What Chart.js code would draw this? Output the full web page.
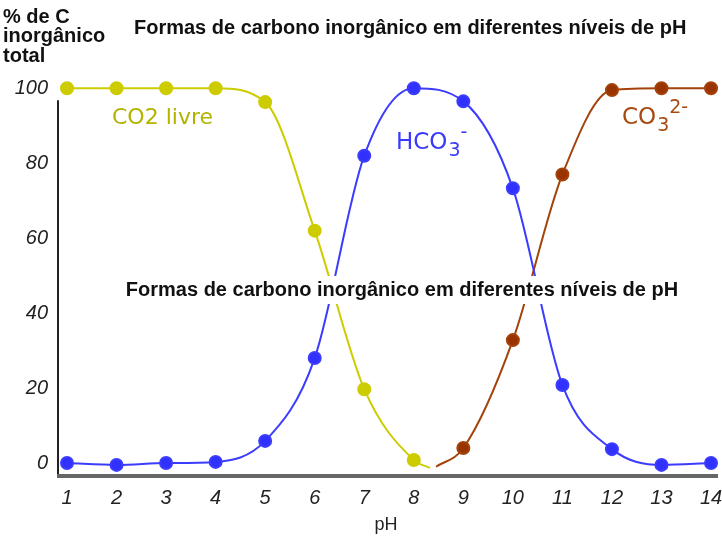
<!DOCTYPE html>
<html>
<head>
<meta charset="utf-8">
<script src="https://cdn.jsdelivr.net/npm/chart.js@4/dist/chart.umd.min.js"></script>
<style>
  html, body { margin: 0; padding: 0; background: #fff; }
  #wrap { width: 722px; height: 540px; }
</style>
</head>
<body>
<div id="wrap"><canvas id="chart" width="722" height="540"></canvas></div>
<script>
// pH values and % of total inorganic carbon
const co2Ph   = [1, 2, 3, 4, 5, 6, 7, 8, 8.33];
const co2Vals = [100, 100, 100, 100, 96.3, 62, 19.7, 0.8, -1.3];
const co2Dots = [1, 1, 1, 1, 1, 1, 1, 1, 0];

const hco3Ph   = [1, 2, 3, 4, 5, 6, 7, 8, 9, 10, 11, 12, 13, 14];
const hco3Vals = [0, -0.5, 0, 0.3, 5.9, 28, 82, 100, 96.5, 73.3, 20.8, 3.7, -0.5, 0];

const co3Ph   = [8.45, 9, 10, 11, 12, 13, 14];
const co3Vals = [-1, 4, 32.8, 77, 99.5, 100, 100];
const co3Dots = [0, 1, 1, 1, 1, 1, 1];

const xTicks = [1, 2, 3, 4, 5, 6, 7, 8, 9, 10, 11, 12, 13, 14];
const yTicks = [0, 20, 40, 60, 80, 100];

const TITLE = 'Formas de carbono inorgânico em diferentes níveis de pH';

const pts = (xs, ys) => xs.map((x, i) => ({ x, y: ys[i] }));

// axes, labels and titles drawn by hand
const decor = {
  id: 'decor',
  beforeDatasetsDraw(chart) {
    const { ctx, chartArea: a, scales: { y } } = chart;
    ctx.save();
    // y axis line
    ctx.strokeStyle = '#222';
    ctx.lineWidth = 2;
    ctx.beginPath();
    ctx.moveTo(a.left, y.getPixelForValue(96.8));
    ctx.lineTo(a.left, a.bottom);
    ctx.stroke();
    // x axis line
    ctx.strokeStyle = '#666';
    ctx.lineWidth = 4;
    ctx.beginPath();
    ctx.moveTo(a.left - 1, a.bottom + 1);
    ctx.lineTo(718, a.bottom + 1);
    ctx.stroke();
    ctx.restore();
  },
  afterDatasetsDraw(chart) {
    const { ctx } = chart;
    ctx.save();
    ctx.textBaseline = 'middle';

    // top title
    ctx.fillStyle = '#111';
    ctx.font = 'bold 20px "Liberation Sans", Arial, sans-serif';
    ctx.textAlign = 'left';
    ctx.fillText(TITLE, 134, 28);

    // y axis title
    ctx.font = 'bold 20px "Liberation Sans", Arial, sans-serif';
    ['% de C', 'inorgânico', 'total'].forEach((s, i) => ctx.fillText(s, 3, 17 + i * 19.5));

    // middle title over white band
    ctx.font = 'bold 20px "Liberation Sans", Arial, sans-serif';
    const w = ctx.measureText(TITLE).width;
    const mx = 402, my = 290;
    ctx.fillStyle = '#fff';
    ctx.fillRect(mx - w / 2 - 4, my - 14, w + 8, 28);
    ctx.fillStyle = '#111';
    ctx.textAlign = 'center';
    ctx.fillText(TITLE, mx, my);

    // series labels
    ctx.textAlign = 'left';
    ctx.font = '22px Verdana, "DejaVu Sans", sans-serif';
    ctx.fillStyle = '#b3b300';
    ctx.fillText('CO2 livre', 112, 118);

    const chem = (base, sub, sup, px, py, color) => {
      ctx.fillStyle = color;
      ctx.font = '23px "DejaVu Sans", sans-serif';
      ctx.fillText(base, px, py);
      let cx = px + ctx.measureText(base).width;
      ctx.font = '19px "DejaVu Sans", sans-serif';
      ctx.fillText(sub, cx + 1, py + 8);
      cx += ctx.measureText(sub).width + 1;
      ctx.fillText(sup, cx, py - 10);
    };
    chem('HCO', '3', '-', 396, 143, '#3a3aff');
    chem('CO', '3', '2-', 622, 118, '#a84a10');

    ctx.restore();
  }
};

const tickFont = { family: '"Liberation Sans", Arial, sans-serif', size: 20, style: 'italic' };

new Chart(document.getElementById('chart'), {
  type: 'line',
  data: {
    datasets: [
      {
        label: 'CO2 livre',
        data: pts(co2Ph, co2Vals),
        borderColor: '#cccc00',
        backgroundColor: '#cccc00',
        pointRadius: co2Dots.map(d => d ? 6 : 0),
        borderWidth: 2,
        cubicInterpolationMode: 'monotone',
        clip: false,
      },
      {
        label: 'HCO3-',
        data: pts(hco3Ph, hco3Vals),
        borderColor: '#3c3cff',
        backgroundColor: '#3030ff',
        pointRadius: 6,
        borderWidth: 2,
        cubicInterpolationMode: 'monotone',
        clip: false,
      },
      {
        label: 'CO3 2-',
        data: pts(co3Ph, co3Vals),
        borderColor: '#a3420a',
        backgroundColor: '#993300',
        pointRadius: co3Dots.map(d => d ? 6 : 0),
        borderWidth: 2,
        cubicInterpolationMode: 'monotone',
        clip: false,
      },
    ],
  },
  options: {
    responsive: false,
    animation: false,
    layout: { padding: { top: 77, right: 0, left: 0, bottom: 0 } },
    plugins: {
      legend: { display: false },
      tooltip: { enabled: false },
    },
    scales: {
      x: {
        type: 'linear',
        min: 0.818,
        max: 14.06,
        afterBuildTicks: s => { s.ticks = xTicks.map(v => ({ value: v })); },
        afterFit: s => { s.height = 65; s.paddingLeft = 0; s.paddingRight = 0; },
        grid: { display: false, drawTicks: false },
        border: { display: false },
        ticks: { font: tickFont, color: '#222', padding: 11, maxRotation: 0, autoSkip: false },
        title: {
          display: true, text: 'pH', color: '#222',
          font: { family: '"Liberation Sans", Arial, sans-serif', size: 18 },
          padding: { top: 1 },
        },
      },
      y: {
        min: -3.2,
        max: 103,
        afterBuildTicks: s => { s.ticks = yTicks.map(v => ({ value: v })); },
        afterFit: s => { s.width = 58; },
        grid: { display: false, drawTicks: false },
        border: { display: false },
        ticks: { font: tickFont, color: '#222', padding: 10 },
      },
    },
  },
  plugins: [decor],
});
</script>
</body>
</html>
